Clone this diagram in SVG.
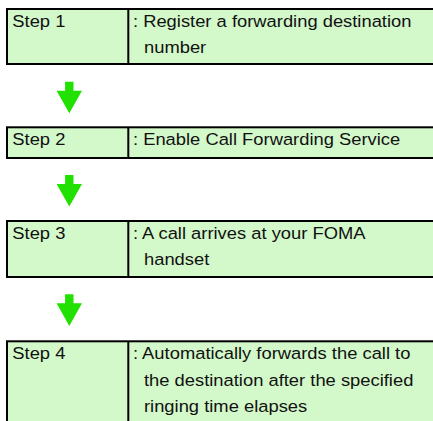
<svg xmlns="http://www.w3.org/2000/svg" width="433" height="421" viewBox="0 0 433 421">
<style>
.box{fill:#d3f8ca;stroke:#000;stroke-width:2}
.div{stroke:#000;stroke-width:2}
.t{font-family:"Liberation Sans",Arial,sans-serif;font-size:17px;fill:#111}
.arr{fill:#22e000}
</style>
<defs>
<path id="ar" d="M-4.2,0 H4.2 V9 H12.7 L0,31.6 L-12.7,9 H-4.2 Z"/>
</defs>
<rect width="433" height="421" fill="#fff"/>
<g id="step1">
<rect class="box" x="7" y="9" width="430" height="55"/>
<line class="div" x1="128.3" y1="9" x2="128.3" y2="64"/>
<g transform="scale(1.08 1)">
<text class="t" x="11.4" y="27">Step 1</text>
<text class="t" x="123.1" y="27">: Register a forwarding destination</text>
<text class="t" x="133.3" y="53.5">number</text>
</g>
</g>
<g id="step2">
<rect class="box" x="7" y="127.3" width="430" height="30.7"/>
<line class="div" x1="128.3" y1="127.3" x2="128.3" y2="158"/>
<g transform="scale(1.08 1)">
<text class="t" x="11.4" y="145.3">Step 2</text>
<text class="t" x="123.1" y="145.3">: Enable Call Forwarding Service</text>
</g>
</g>
<g id="step3">
<rect class="box" x="7" y="221" width="430" height="56"/>
<line class="div" x1="128.3" y1="221" x2="128.3" y2="277"/>
<g transform="scale(1.08 1)">
<text class="t" x="11.4" y="239">Step 3</text>
<text class="t" x="123.1" y="239">: A call arrives at your FOMA</text>
<text class="t" x="133.3" y="265.5">handset</text>
</g>
</g>
<g id="step4">
<rect class="box" x="7" y="341.3" width="430" height="90"/>
<line class="div" x1="128.3" y1="341.3" x2="128.3" y2="425"/>
<g transform="scale(1.08 1)">
<text class="t" x="11.4" y="359.3">Step 4</text>
<text class="t" x="123.1" y="359.3">: Automatically forwards the call to</text>
<text class="t" x="133.3" y="385.8">the destination after the specified</text>
<text class="t" x="133.3" y="412.3">ringing time elapses</text>
</g>
</g>
<g id="connectors">
<use href="#ar" class="arr" transform="translate(69.3,81.7)"/>
<use href="#ar" class="arr" transform="translate(69.3,175)"/>
<use href="#ar" class="arr" transform="translate(69.3,294.3)"/>
</g>
</svg>
